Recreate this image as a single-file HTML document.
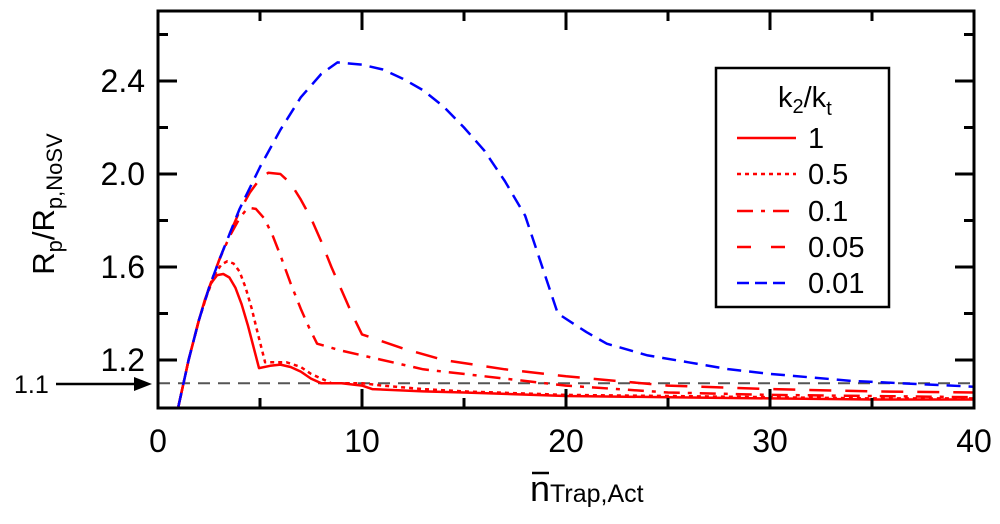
<!DOCTYPE html>
<html><head><meta charset="utf-8"><style>
body{margin:0;background:#fff;}
svg{display:block;font-family:"Liberation Sans",sans-serif;}
</style></head><body>
<svg id="chart" width="1000" height="524">
<g id="plot"></g>
</svg>
<script>
const xTicks=[0,10,20,30,40];
const yTicks=[1.2,1.6,2.0,2.4];
const seriesNames=["1","0.5","0.1","0.05","0.01"];
const s1x=[1,1.5,2,2.3,2.6,2.9,3.2,3.5,3.8,4.1,4.4,4.7,4.95,5.5,6,6.5,7,7.5,8,9,10,10.5,13,15,20,25,30,35,40];
const s1y=[1.0,1.2,1.37,1.46,1.53,1.565,1.57,1.555,1.51,1.44,1.35,1.25,1.165,1.175,1.18,1.17,1.15,1.12,1.1,1.1,1.09,1.075,1.065,1.06,1.045,1.04,1.035,1.03,1.03];
const s2x=[1,1.5,2,2.4,2.8,3.1,3.4,3.7,4.0,4.3,4.6,4.9,5.25,5.8,6.3,7,7.5,8.5,10,11,13,15,20,25,30,35,40];
const s2y=[1.0,1.2,1.37,1.48,1.57,1.61,1.625,1.615,1.58,1.51,1.42,1.31,1.19,1.19,1.19,1.17,1.14,1.1,1.1,1.09,1.075,1.065,1.05,1.045,1.04,1.035,1.035];
const s3x=[1,1.5,2,2.5,3,3.5,4,4.4,4.8,5.2,5.6,6,6.5,7,7.4,7.8,9,11,13,16,20,25,30,35,40];
const s3y=[1.0,1.2,1.37,1.51,1.63,1.73,1.81,1.855,1.85,1.81,1.74,1.65,1.53,1.42,1.34,1.27,1.24,1.2,1.16,1.13,1.09,1.06,1.05,1.045,1.04];
const s4x=[1,1.5,2,2.5,3,3.5,4,4.5,5,5.4,6,6.5,7,7.5,8,8.5,9,9.5,10,12,14,17,20,25,30,35,40];
const s4y=[1.0,1.2,1.37,1.51,1.63,1.74,1.84,1.92,1.98,2.005,2.0,1.96,1.89,1.81,1.71,1.6,1.5,1.4,1.31,1.25,1.2,1.16,1.13,1.09,1.075,1.065,1.06];
const s5x=[1,1.5,2,2.5,3,4,5,6,7,8,8.8,10,11,12,13,14,15,16,17,18,19.6,21,22,24,26,28,30,34,40];
const s5y=[1.0,1.2,1.37,1.51,1.63,1.85,2.03,2.19,2.33,2.43,2.48,2.47,2.45,2.41,2.36,2.29,2.2,2.1,1.97,1.82,1.4,1.32,1.27,1.22,1.19,1.16,1.14,1.11,1.085];
const refLine=1.1;

const NS="http://www.w3.org/2000/svg";
const g=document.getElementById('plot');
const X0=158,X1=974,Y0=11,Y1=408;
const xs=v=>X0+(v/40)*(X1-X0);
const ys=v=>360-(v-1.2)*232.5;
function mk(t,a,p){const e=document.createElementNS(NS,t);for(const k in a)e.setAttribute(k,a[k]);(p||g).appendChild(e);return e;}
const clip=mk('clipPath',{id:'cp'});mk('rect',{x:X0,y:Y0,width:X1-X0,height:Y1-Y0},clip);
const rl=mk('line',{x1:X0,x2:X1,y1:ys(refLine),y2:ys(refLine),stroke:'#555','stroke-width':2,'stroke-dasharray':'12,8'});


const styles=[
 {c:'#f00',d:''},{c:'#f00',d:'4,4'},{c:'#f00',d:'16,8,4,8'},{c:'#f00',d:'22,14'},{c:'#00f',d:'14,8'}];
const allx=[s1x,s2x,s3x,s4x,s5x],ally=[s1y,s2y,s3y,s4y,s5y];
allx.forEach((xa,i)=>{
 const pts=xa.map((x,j)=>xs(x).toFixed(1)+','+ys(ally[i][j]).toFixed(1)).join(' ');
 const pl=mk('polyline',{points:pts,fill:'none',stroke:styles[i].c,'stroke-width':2.5,'stroke-dasharray':styles[i].d,'stroke-linejoin':'round','clip-path':'url(#cp)'});
 
 
});
const bx=mk('rect',{x:X0,y:Y0,width:X1-X0,height:Y1-Y0,fill:'none',stroke:'#000','stroke-width':3});


for(let k=0;k<=7;k++){const v=1.2+k*0.2;
 const major=(k%2===0);
 const y=ys(v),L=major?19:10;
 mk('line',{x1:X0,x2:X0+L,y1:y,y2:y,stroke:'#000','stroke-width':3});
 mk('line',{x1:X1,x2:X1-L,y1:y,y2:y,stroke:'#000','stroke-width':3});
}
yTicks.forEach(v=>{const t=mk('text',{x:145,y:ys(v)+11,'text-anchor':'end','font-size':32});t.textContent=v.toFixed(1);
 
 });
for(let v=5;v<40;v+=5){const L=v%10===0?19:10;const x=xs(v);
 mk('line',{x1:x,x2:x,y1:Y1,y2:Y1-L,stroke:'#000','stroke-width':3});
 mk('line',{x1:x,x2:x,y1:Y0,y2:Y0+L,stroke:'#000','stroke-width':3});}
xTicks.forEach(v=>{const t=mk('text',{x:xs(v),y:452,'text-anchor':'middle','font-size':32});t.textContent=v;
 
 });
</script>
<svg width="1000" height="524" style="position:absolute;left:0;top:0">
<g font-family="Liberation Sans, sans-serif">
<text x="14" y="393" font-size="25">1.1</text>
<line x1="56" y1="384" x2="140" y2="384" stroke="#000" stroke-width="2.5"/>
<polygon points="152,384 134,377 134,391" fill="#000"/>
<text transform="translate(54,204) rotate(-90)" text-anchor="middle" font-size="31">R<tspan font-size="22" dy="8">p</tspan><tspan dy="-8">/R</tspan><tspan font-size="22" dy="8">p,NoSV</tspan></text>
<text x="530" y="501" font-size="36">n<tspan font-size="25" dy="1">Trap,Act</tspan></text>
<line x1="532" y1="473" x2="549" y2="473" stroke="#000" stroke-width="2.5"/>
<g>
<rect x="716" y="68" width="173" height="239" fill="#fff" stroke="#000" stroke-width="2.5"/>
<text x="778" y="107" font-size="29">k<tspan font-size="20" dy="6">2</tspan><tspan dy="-6">/k</tspan><tspan font-size="20" dy="8">t</tspan></text>
<line x1="737" x2="796" y1="138" y2="138" stroke="#f00" stroke-width="2.5"/>
<text x="808" y="148" font-size="29">1</text>
<line x1="737" x2="796" y1="174" y2="174" stroke="#f00" stroke-width="2.5" stroke-dasharray="4,4"/>
<text x="808" y="184" font-size="29">0.5</text>
<line x1="737" x2="796" y1="211" y2="211" stroke="#f00" stroke-width="2.5" stroke-dasharray="16,8,4,8"/>
<text x="808" y="221" font-size="29">0.1</text>
<line x1="737" x2="786" y1="247" y2="247" stroke="#f00" stroke-width="2.5" stroke-dasharray="14,20"/>
<text x="808" y="257" font-size="29">0.05</text>
<line x1="737" x2="790" y1="283" y2="283" stroke="#00f" stroke-width="2.5" stroke-dasharray="12,6"/>
<text x="808" y="293" font-size="29">0.01</text>
</g>
</g>
</svg>
</body></html>
